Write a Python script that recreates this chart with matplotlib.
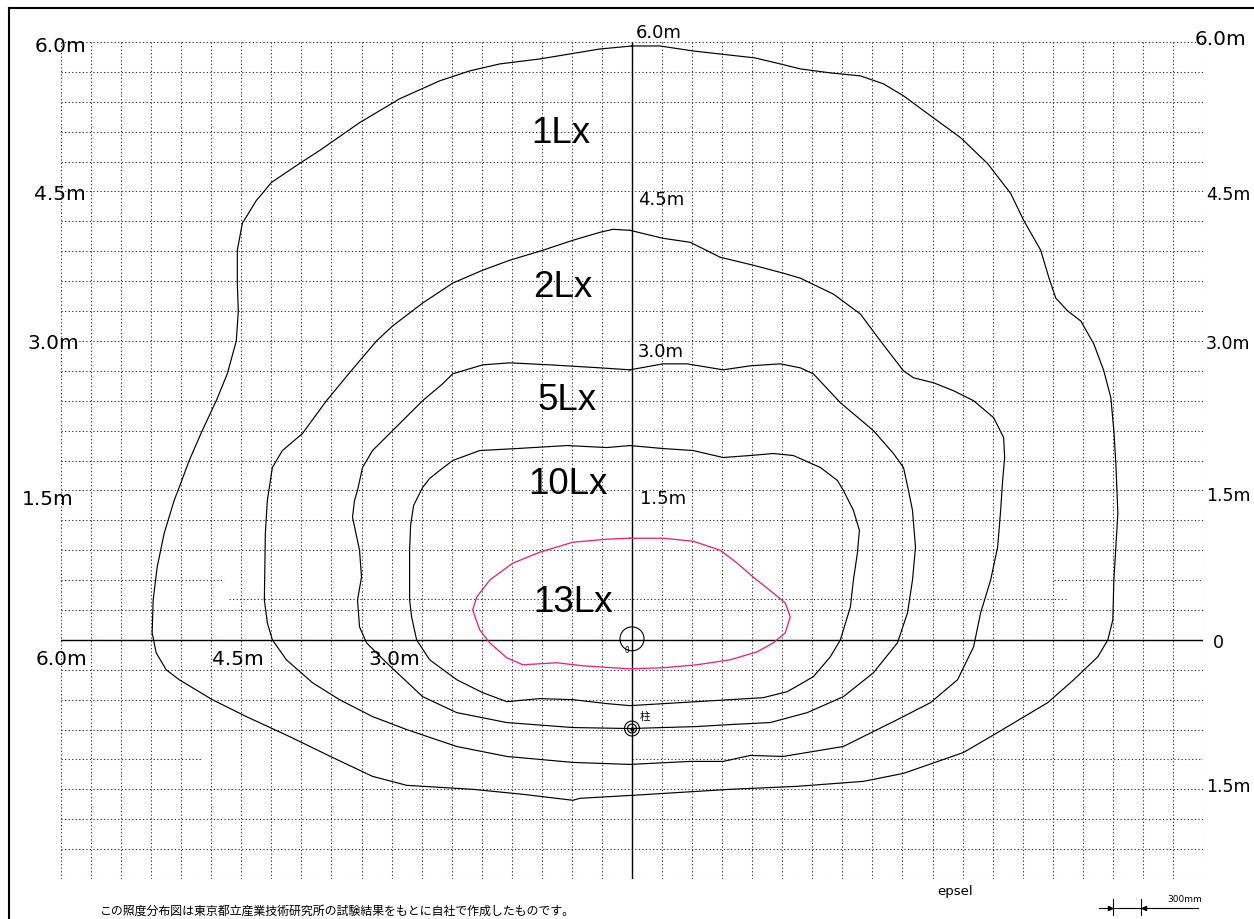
import matplotlib.pyplot as plt
from matplotlib.patches import Circle
from matplotlib.lines import Line2D

# illuminance contours, metres from the lamp (x right, y forward)
lx1_x = [0.00, 0.28, 0.61, 1.23, 1.48, 1.68, 1.98, 2.28, 2.51, 2.71, 2.98, 3.28, 3.55, 3.78, 3.91, 4.08,
         4.16, 4.23, 4.35, 4.48, 4.61, 4.71, 4.78, 4.81, 4.83, 4.85, 4.83, 4.81, 4.80, 4.75, 4.65, 4.41,
         4.15, 3.65, 3.31, 2.71, 2.31, 1.65, 0.98, 0.01, -0.52, -0.59, -1.09, -1.59, -2.25, -2.59, -2.99,
         -3.42, -3.85, -4.19, -4.52, -4.65, -4.75, -4.79, -4.78, -4.74, -4.67, -4.57, -4.52, -4.42, -4.29,
         -4.15, -4.04, -3.95, -3.93, -3.94, -3.94, -3.89, -3.75, -3.69, -3.60, -3.32, -3.12, -2.72, -2.32,
         -1.92, -1.62, -1.32, -0.92, -0.32, 0.00]
lx1_y = [5.96, 5.96, 5.91, 5.84, 5.78, 5.73, 5.69, 5.66, 5.58, 5.46, 5.26, 5.04, 4.78, 4.48, 4.21, 3.91,
         3.64, 3.43, 3.30, 3.20, 2.97, 2.70, 2.43, 2.10, 1.77, 1.27, 0.93, 0.60, 0.20, 0.00, -0.17, -0.40,
         -0.63, -0.93, -1.13, -1.34, -1.42, -1.47, -1.50, -1.56, -1.59, -1.61, -1.55, -1.50, -1.46, -1.37,
         -1.18, -0.97, -0.77, -0.60, -0.40, -0.30, -0.13, 0.07, 0.40, 0.73, 1.07, 1.40, 1.53, 1.80, 2.10,
         2.40, 2.67, 3.00, 3.30, 3.58, 3.91, 4.18, 4.41, 4.48, 4.59, 4.78, 4.91, 5.19, 5.43, 5.61, 5.71,
         5.78, 5.83, 5.93, 5.96]

lx2_x = [-0.02, 0.31, 0.58, 0.88, 1.21, 1.51, 1.68, 2.01, 2.28, 2.48, 2.71, 2.81, 3.01, 3.21, 3.41, 3.61,
         3.71, 3.72, 3.70, 3.68, 3.65, 3.58, 3.48, 3.41, 3.25, 2.98, 2.65, 2.11, 1.51, 1.18, 0.91, 0.58,
         -0.02, -0.59, -1.25, -1.75, -2.25, -2.59, -2.92, -3.19, -3.45, -3.59, -3.64, -3.67, -3.66, -3.64,
         -3.59, -3.49, -3.29, -3.05, -2.82, -2.55, -2.39, -2.09, -1.79, -1.49, -1.22, -0.89, -0.59, -0.32,
         -0.19, -0.02]
lx2_y = [4.11, 4.03, 3.99, 3.84, 3.76, 3.68, 3.63, 3.47, 3.27, 3.00, 2.70, 2.63, 2.58, 2.50, 2.40, 2.23,
         2.03, 1.83, 1.60, 1.30, 0.93, 0.60, 0.27, -0.07, -0.40, -0.63, -0.80, -1.07, -1.17, -1.16, -1.22,
         -1.22, -1.25, -1.23, -1.17, -1.07, -0.90, -0.77, -0.60, -0.43, -0.20, 0.00, 0.17, 0.40, 1.07, 1.40,
         1.73, 1.90, 2.07, 2.40, 2.68, 3.00, 3.15, 3.38, 3.58, 3.71, 3.81, 3.91, 4.01, 4.09, 4.12, 4.11]

lx5_x = [-0.02, 0.31, 0.55, 0.91, 1.18, 1.48, 1.68, 1.81, 2.08, 2.41, 2.61, 2.71, 2.76, 2.80, 2.83, 2.80,
         2.75, 2.65, 2.41, 2.11, 1.75, 1.38, 0.98, 0.65, -0.02, -0.59, -1.25, -1.75, -2.09, -2.45, -2.65,
         -2.72, -2.74, -2.70, -2.72, -2.79, -2.77, -2.74, -2.69, -2.59, -2.39, -2.32, -2.09, -1.89, -1.79,
         -1.49, -1.22, -0.82, -0.32, -0.02]
lx5_y = [2.71, 2.77, 2.77, 2.71, 2.75, 2.77, 2.73, 2.67, 2.38, 2.10, 1.87, 1.73, 1.50, 1.30, 0.93, 0.60,
         0.27, -0.03, -0.33, -0.57, -0.73, -0.83, -0.85, -0.87, -0.89, -0.88, -0.83, -0.73, -0.57, -0.23,
         -0.03, 0.13, 0.40, 0.63, 0.90, 1.23, 1.40, 1.50, 1.73, 1.90, 2.10, 2.17, 2.40, 2.57, 2.67, 2.76,
         2.78, 2.76, 2.73, 2.71]

lx10_x = [-0.02, 0.31, 0.61, 0.91, 1.18, 1.41, 1.61, 1.88, 2.05, 2.11, 2.21, 2.27, 2.25, 2.21, 2.18, 2.08,
          1.98, 1.81, 1.55, 1.31, 0.65, -0.02, -0.25, -0.59, -0.92, -1.25, -1.49, -1.75, -2.02, -2.15,
          -2.20, -2.22, -2.22, -2.21, -2.18, -2.09, -2.02, -1.92, -1.79, -1.52, -1.15, -0.65, -0.25, -0.02]
lx10_y = [1.95, 1.92, 1.90, 1.83, 1.85, 1.87, 1.85, 1.73, 1.60, 1.50, 1.30, 1.10, 0.87, 0.60, 0.33, 0.00,
          -0.17, -0.37, -0.52, -0.58, -0.62, -0.66, -0.64, -0.60, -0.59, -0.62, -0.53, -0.40, -0.20, 0.00,
          0.23, 0.40, 0.90, 1.15, 1.35, 1.53, 1.62, 1.70, 1.80, 1.90, 1.92, 1.95, 1.93, 1.95]

lx13_x = [-0.02, 0.31, 0.61, 0.88, 1.05, 1.21, 1.41, 1.53, 1.58, 1.53, 1.41, 1.25, 0.98, 0.65, 0.31, -0.02,
          -0.19, -0.49, -0.75, -1.09, -1.25, -1.42, -1.52, -1.59, -1.55, -1.42, -1.19, -0.92, -0.59, -0.25,
          -0.02]
lx13_y = [1.02, 1.02, 0.99, 0.90, 0.77, 0.63, 0.47, 0.37, 0.23, 0.07, -0.03, -0.12, -0.20, -0.25, -0.28,
          -0.29, -0.28, -0.26, -0.23, -0.25, -0.18, -0.03, 0.10, 0.30, 0.43, 0.60, 0.77, 0.88, 0.98, 1.01,
          1.02]

level_names = ['1Lx', '2Lx', '5Lx', '10Lx', '13Lx']

W, H = 1254, 920


def fpos(x, y):
    # pixel position -> figure fraction
    return x / W, 1 - y / H


plt.rcParams['font.family'] = ['DejaVu Sans', 'Noto Sans CJK JP']

fig = plt.figure(figsize=(12.54, 9.2), dpi=100)
ax = fig.add_axes([61 / W, 40 / H, 1142 / W, 837 / H])
ax.set_xlim(-5.7, 5.7)
ax.set_ylim(-2.4, 6.0)
ax.axis('off')

# 300mm grid
dot = dict(color='#333333', lw=0.75, ls=(0, (1.2, 2.2)))
for k in range(39):
    x = round(-5.7 + 0.3 * k, 2)
    ax.plot([x, x], [-2.4, 6.0], **dot)
for k in range(29):
    y = round(-2.4 + 0.3 * k, 2)
    if y == 0.6:
        ax.plot([-5.7, -4.07], [y, y], **dot)
        ax.plot([4.21, 5.7], [y, y], **dot)
    elif y == -1.2:
        ax.plot([-5.7, -4.3], [y, y], **dot)
        ax.plot([0.0, 5.7], [y, y], **dot)
    else:
        ax.plot([-5.7, 5.7], [y, y], **dot)
ax.plot([-4.02, 4.35], [0.41, 0.41], **dot)

# centre lines
ax.plot([-5.7, 5.7], [0, 0], color='black', lw=1.0)
ax.plot([0, 0], [-2.4, 6.0], color='black', lw=1.0)

# contours
for cx, cy in [(lx1_x, lx1_y), (lx2_x, lx2_y), (lx5_x, lx5_y), (lx10_x, lx10_y)]:
    ax.plot(cx, cy, color='black', lw=0.85)
ax.plot(lx13_x, lx13_y, color='#e8247f', lw=0.95)

# lamp and column markers
ax.add_patch(Circle((0, 0.01), 0.12, fill=False, ec='black', lw=0.8))
ax.text(-0.05, -0.1, 'θ', fontsize=5.5, ha='center', va='center')
for r in [0.075, 0.045]:
    ax.add_patch(Circle((0, -0.89), r, fill=False, ec='black', lw=0.8))
ax.plot([0], [-0.89], marker='o', ms=2, color='black')
ax.text(0.08, -0.76, '柱', fontsize=7.5, ha='left', va='center', family=['Noto Sans CJK JP'])

# scale bar (300 mm)
ax.plot([4.66, 5.65], [-2.69, -2.69], color='black', lw=0.8, clip_on=False)
for sx in [4.80, 5.08]:
    ax.plot([sx, sx], [-2.60, -2.76], color='black', lw=0.8, clip_on=False)
ax.plot([4.77], [-2.69], marker='>', ms=3, color='black', clip_on=False)
ax.plot([5.11], [-2.69], marker='<', ms=3, color='black', clip_on=False)

# level labels
lx_pos = [(531, 143), (533, 297), (538, 410), (528, 494), (533, 612)]
for name, (px, py) in zip(level_names, lx_pos):
    fig.text(*fpos(px, py), name, fontsize=26.5, family='Liberation Sans', ha='left', va='baseline')

# distance labels
dist_labels = [
    ('6.0m', 35, 52), ('4.5m', 34, 200), ('3.0m', 27, 349), ('1.5m', 22, 505),
    ('6.0m', 36, 665), ('4.5m', 212, 665), ('3.0m', 368, 665),
    ('6.0m', 636, 38), ('4.5m', 638, 205), ('3.0m', 638, 357), ('1.5m', 640, 504),
    ('6.0m', 1195, 45), ('4.5m', 1206, 200), ('3.0m', 1206, 349), ('1.5m', 1206, 501),
    ('0', 1213, 648), ('1.5m', 1206, 792),
]
for txt, px, py in dist_labels:
    if 600 < px < 700:
        fs = 13
    elif px > 1200:
        fs = 12.5
    else:
        fs = 14.5
    fig.text(*fpos(px, py), txt, fontsize=fs, ha='left', va='baseline')

fig.text(*fpos(100, 915), 'この照度分布図は東京都立産業技術研究所の試験結果をもとに自社で作成したものです。',
         fontsize=8.6, family=['Noto Sans CJK JP'], ha='left', va='baseline')
fig.text(*fpos(937, 895), 'epsel', fontsize=9.5, ha='left', va='baseline')
fig.text(*fpos(1167, 902), '300mm', fontsize=6.5, ha='left', va='baseline')

# outer frame
fig.add_artist(Line2D([9 / W, 1], [1 - 9 / H, 1 - 9 / H], color='black', lw=1.5))
fig.add_artist(Line2D([9 / W, 9 / W], [0, 1 - 9 / H], color='black', lw=1.5))

fig.savefig('out.png', dpi=100)
